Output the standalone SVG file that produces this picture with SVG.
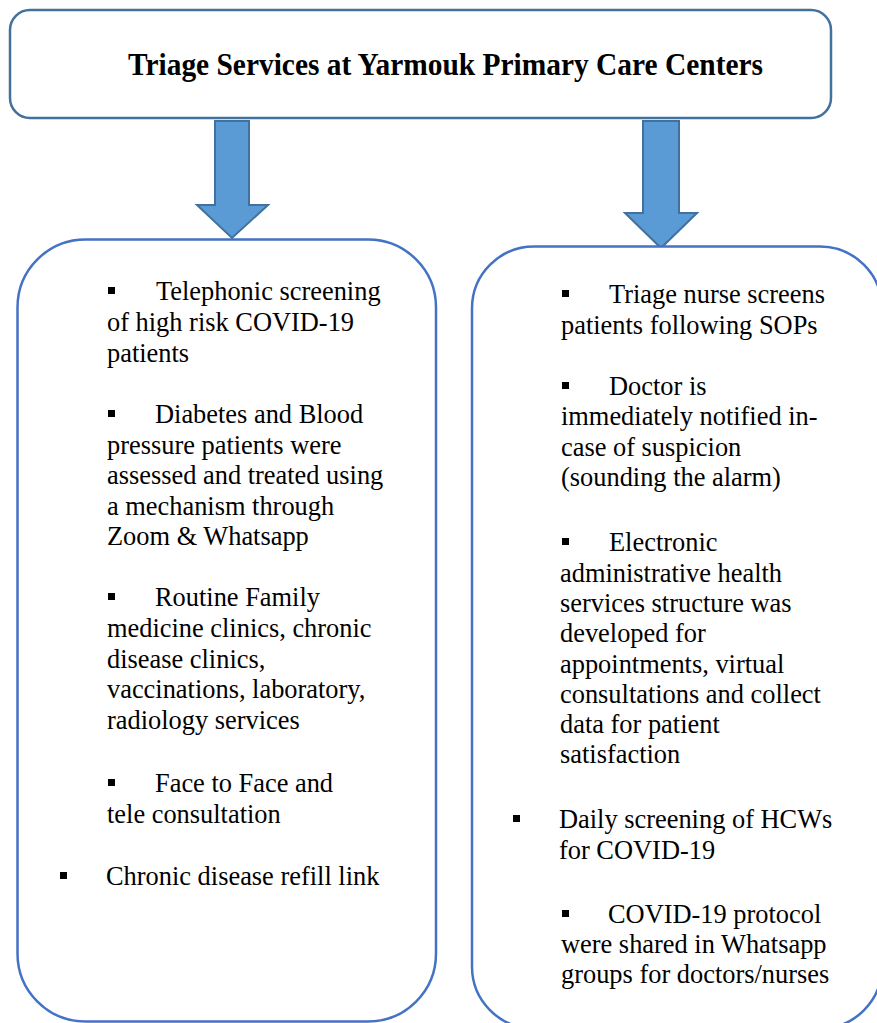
<svg xmlns="http://www.w3.org/2000/svg" width="877" height="1023" viewBox="0 0 877 1023">
<style>
.box{fill:#FFFFFF;stroke:#4472C4;stroke-width:2.5}
.top{fill:#FFFFFF;stroke:#41719C;stroke-width:2.5}
.arrow{fill:#5B9BD5;stroke:#41719C;stroke-width:2}
.t{font-size:26.4px;fill:#000000}
.title{font-size:32px;font-weight:bold;fill:#000000}
.b{fill:#000000}
</style>
<rect width="877" height="1023" fill="#FFFFFF"/>
<g id="connectors">
<polygon class="arrow" points="215,121 249,121 249,205 268,205 232,238 197,205 215,205"/>
<polygon class="arrow" points="643,121 679,121 679,213 697,213 661,248 625,213 643,213"/>
</g>
<g font-family="'Liberation Serif', 'Times New Roman', Tinos, serif">
<g id="title-node">
<rect class="top" x="10" y="10" width="821" height="108" rx="20"/>
<text class="title" x="128" y="75" textLength="635" lengthAdjust="spacingAndGlyphs">Triage Services at Yarmouk Primary Care Centers</text>
</g>
<g id="left-node">
<rect class="box" x="17.5" y="239.5" width="418.5" height="782" rx="68"/>
<rect class="b" x="108" y="287" width="7" height="7"/>
<text class="t" x="156" y="300">Telephonic screening</text>
<text class="t" x="107" y="331">of high risk COVID-19</text>
<text class="t" x="107" y="362">patients</text>
<rect class="b" x="108" y="410" width="7" height="7"/>
<text class="t" x="155" y="423">Diabetes and Blood</text>
<text class="t" x="107" y="453.5">pressure patients were</text>
<text class="t" x="107" y="484">assessed and treated using</text>
<text class="t" x="107" y="514.5">a mechanism through</text>
<text class="t" x="107" y="545">Zoom &amp; Whatsapp</text>
<rect class="b" x="108" y="593" width="7" height="7"/>
<text class="t" x="155" y="606">Routine Family</text>
<text class="t" x="107" y="637">medicine clinics, chronic</text>
<text class="t" x="107" y="667.5">disease clinics,</text>
<text class="t" x="107" y="698">vaccinations, laboratory,</text>
<text class="t" x="107" y="729">radiology services</text>
<rect class="b" x="108" y="779" width="7" height="7"/>
<text class="t" x="155" y="792">Face to Face and</text>
<text class="t" x="107" y="823">tele consultation</text>
<rect class="b" x="60" y="872" width="7" height="7"/>
<text class="t" x="106" y="885">Chronic disease refill link</text>
</g>
<g id="right-node">
<rect class="box" x="472" y="246.5" width="410" height="782" rx="62"/>
<rect class="b" x="562" y="290" width="7" height="7"/>
<text class="t" x="609" y="303">Triage nurse screens</text>
<text class="t" x="561" y="334">patients following SOPs</text>
<rect class="b" x="562" y="382" width="7" height="7"/>
<text class="t" x="609" y="395">Doctor is</text>
<text class="t" x="561" y="425">immediately notified in-</text>
<text class="t" x="561" y="455.5">case of suspicion</text>
<text class="t" x="561" y="486">(sounding the alarm)</text>
<rect class="b" x="562" y="538" width="7" height="7"/>
<text class="t" x="609" y="551">Electronic</text>
<text class="t" x="560" y="581.5">administrative health</text>
<text class="t" x="560" y="612">services structure was</text>
<text class="t" x="560" y="642">developed for</text>
<text class="t" x="560" y="672.5">appointments, virtual</text>
<text class="t" x="560" y="703">consultations and collect</text>
<text class="t" x="560" y="733">data for patient</text>
<text class="t" x="560" y="763">satisfaction</text>
<rect class="b" x="513" y="815" width="7" height="7"/>
<text class="t" x="559" y="828">Daily screening of HCWs</text>
<text class="t" x="559" y="859">for COVID-19</text>
<rect class="b" x="562" y="910" width="7" height="7"/>
<text class="t" x="608" y="923">COVID-19 protocol</text>
<text class="t" x="561" y="953">were shared in Whatsapp</text>
<text class="t" x="561" y="983">groups for doctors/nurses</text>
</g>
</g>
</svg>
